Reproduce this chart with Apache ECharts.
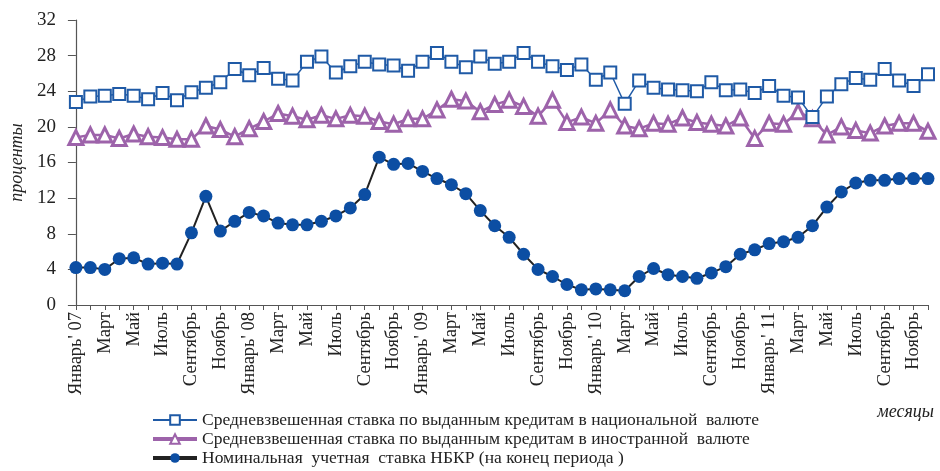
<!DOCTYPE html>
<html>
<head>
<meta charset="utf-8">
<script src="https://cdn.jsdelivr.net/npm/echarts@6/dist/echarts.min.js"></script>
<style>
html,body{margin:0;padding:0;background:#fff;}
#chart{width:940px;height:471px;}
</style>
</head>
<body>
<div id="chart"></div>
<script>
const monthNames = ['Январь','Февраль','Март','Апрель','Май','Июнь','Июль','Август','Сентябрь','Октябрь','Ноябрь','Декабрь'];
const yearTags = ['07','08','09','10','11'];
const categories = [];
yearTags.forEach(function (y) {
  monthNames.forEach(function (m, i) { categories.push(i === 0 ? m + "' " + y : m); });
});

const yTicks = [0, 4, 8, 12, 16, 20, 24, 28, 32];

const nationalRate = [
  22.8, 23.4, 23.5, 23.7, 23.5, 23.1, 23.8, 23.0, 23.9, 24.4, 25.0, 26.5,
  25.8, 26.6, 25.4, 25.2, 27.3, 27.9, 26.1, 26.8, 27.3, 27.0, 26.9, 26.3,
  27.3, 28.3, 27.3, 26.7, 27.9, 27.1, 27.3, 28.3, 27.3, 26.8, 26.4, 27.0,
  25.3, 26.1, 22.6, 25.2, 24.4, 24.2, 24.1, 24.0, 25.0, 24.1, 24.2, 23.8,
  24.6, 23.5, 23.3, 21.1, 23.4, 24.8, 25.5, 25.3, 26.5, 25.2, 24.6, 25.9
];
const foreignRate = [
  18.8, 19.1, 19.1, 18.7, 19.2, 18.9, 18.8, 18.6, 18.6, 20.1, 19.7, 18.9,
  19.8, 20.6, 21.5, 21.2, 20.8, 21.3, 20.9, 21.3, 21.2, 20.6, 20.3, 20.9,
  20.9, 21.9, 23.1, 22.9, 21.7, 22.5, 23.0, 22.3, 21.2, 23.0, 20.5, 21.1,
  20.4, 21.9, 20.1, 19.8, 20.4, 20.3, 21.0, 20.5, 20.3, 20.1, 21.0, 18.7,
  20.4, 20.3, 21.7, 20.9, 19.1, 20.0, 19.6, 19.3, 20.1, 20.4, 20.4, 19.5
];
const discountRate = [
  4.2, 4.2, 4.0, 5.2, 5.3, 4.6, 4.7, 4.6, 8.1, 12.2, 8.3, 9.4,
  10.4, 10.0, 9.2, 9.0, 9.0, 9.4, 10.0, 10.9, 12.4, 16.6, 15.8, 15.9,
  15.0, 14.2, 13.5, 12.5, 10.6, 8.9, 7.6, 5.7, 4.0, 3.2, 2.3, 1.7,
  1.8, 1.7, 1.6, 3.2, 4.1, 3.4, 3.2, 3.0, 3.6, 4.3, 5.7, 6.2,
  6.9, 7.1, 7.6, 8.9, 11.0, 12.7, 13.7, 14.0, 14.0, 14.2, 14.2, 14.2
];

const seriesNames = [
  'Средневзвешенная ставка по выданным кредитам в национальной  валюте',
  'Средневзвешенная ставка по выданным кредитам в иностранной  валюте',
  'Номинальная  учетная  ставка НБКР (на конец периода )'
];

const FONT = '"Liberation Serif", "DejaVu Serif", serif';
const chart = echarts.init(document.getElementById('chart'), null, {renderer: 'canvas'});

chart.setOption({
  animation: false,
  backgroundColor: '#ffffff',
  textStyle: {fontFamily: FONT},
  grid: {left: 72, right: 12, top: 20, bottom: 166, containLabel: false},
  xAxis: {
    type: 'category',
    data: categories,
    boundaryGap: false,
    axisLine: {lineStyle: {color: '#555', width: 1.2}},
    axisTick: {show: true, interval: 0, length: 5, lineStyle: {color: '#555'}},
    axisLabel: {
      interval: 1, rotate: 90, margin: 7,
      fontFamily: FONT, fontSize: 18.5, color: '#222'
    },
    splitLine: {show: false}
  },
  yAxis: {
    type: 'value',
    min: yTicks[0], max: yTicks[yTicks.length - 1], interval: 4,
    name: 'проценты',
    nameLocation: 'middle',
    nameRotate: 90,
    nameGap: 47,
    nameTextStyle: {fontFamily: FONT, fontStyle: 'italic', fontSize: 18, color: '#222'},
    axisLine: {show: true, lineStyle: {color: '#555', width: 1.2}},
    axisTick: {show: true, inside: false, length: 8, lineStyle: {color: '#555'}},
    axisLabel: {margin: 20, fontFamily: FONT, fontSize: 19, color: '#222'},
    splitLine: {show: false}
  },
  legend: {
    orient: 'vertical',
    left: 146, top: 406, height: 80,
    itemWidth: 44, itemHeight: 12, itemGap: 1,
    textStyle: {fontFamily: FONT, fontSize: 17.5, color: '#222', lineHeight: 18},
    data: [
      {name: seriesNames[0]},
      {name: seriesNames[1], lineStyle: {width: 4}},
      {name: seriesNames[2], lineStyle: {width: 4}}
    ]
  },
  graphic: [{
    type: 'text', right: 6, top: 403,
    style: {text: 'месяцы', font: 'italic 18px "Liberation Serif", serif', fill: '#222'}
  }],
  series: [
    {
      name: seriesNames[0], type: 'line', data: nationalRate,
      symbol: 'rect', symbolSize: 12, showAllSymbol: true,
      lineStyle: {color: '#1f5aa6', width: 1.5},
      itemStyle: {color: '#ffffff', borderColor: '#1f5aa6', borderWidth: 2},
      z: 3
    },
    {
      name: seriesNames[1], type: 'line', data: foreignRate,
      symbol: 'triangle', symbolSize: 14, showAllSymbol: true,
      lineStyle: {color: '#9d63aa', width: 2.5},
      itemStyle: {color: '#ffffff', borderColor: '#9d63aa', borderWidth: 3},
      z: 2
    },
    {
      name: seriesNames[2], type: 'line', data: discountRate,
      symbol: 'circle', symbolSize: 13, showAllSymbol: true,
      lineStyle: {color: '#222222', width: 2},
      itemStyle: {color: '#0c4ea3', borderColor: '#0c4ea3', borderWidth: 0},
      z: 4
    }
  ]
});
</script>
</body>
</html>
